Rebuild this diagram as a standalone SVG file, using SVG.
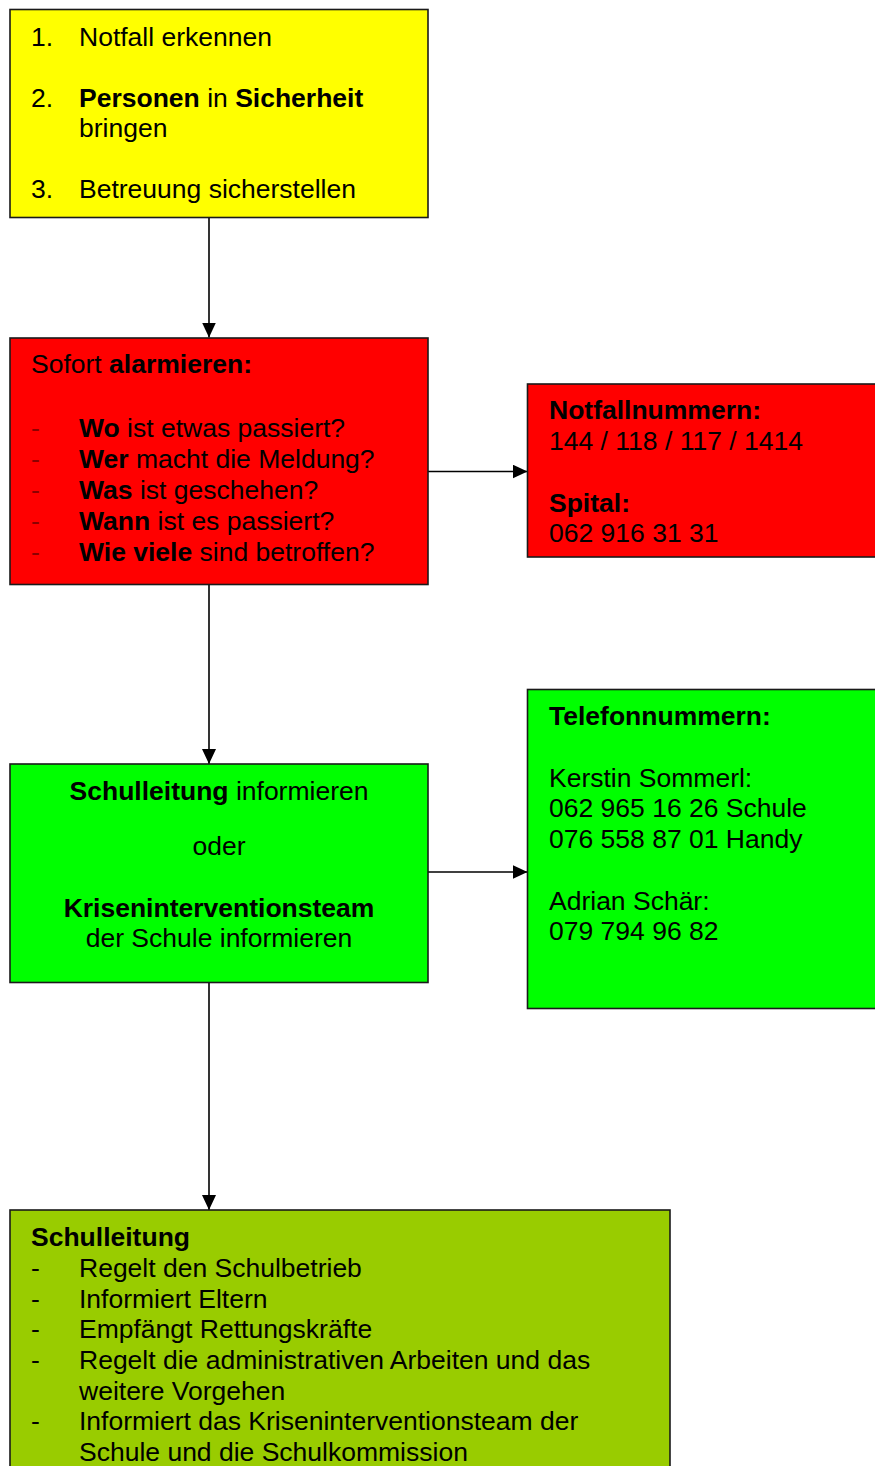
<svg xmlns="http://www.w3.org/2000/svg" width="875" height="1466" viewBox="0 0 875 1466">
<defs>
<style>
.box{stroke:#1a1a1a;stroke-width:1.6}
text{font-family:"Liberation Sans",Arial,sans-serif;font-size:26.5px;fill:#000}
.b{font-weight:bold}
.dr{fill:#8b0000}
.conn line{stroke:#000;stroke-width:1.6}
</style>
<marker id="ah" viewBox="0 0 15 14" refX="15" refY="7" markerWidth="15" markerHeight="14" markerUnits="userSpaceOnUse" orient="auto">
<path d="M0,0 L15,7 L0,14 Z" fill="#000"/>
</marker>
</defs>
<rect width="875" height="1466" fill="#fff"/>
<g class="conn">
<line x1="209" y1="218" x2="209" y2="337.5" marker-end="url(#ah)"/>
<line x1="428" y1="471.5" x2="527.5" y2="471.5" marker-end="url(#ah)"/>
<line x1="209" y1="585" x2="209" y2="764" marker-end="url(#ah)"/>
<line x1="428" y1="872" x2="527.5" y2="872" marker-end="url(#ah)"/>
<line x1="209" y1="983" x2="209" y2="1210" marker-end="url(#ah)"/>
</g>
<g id="n1">
<rect class="box" x="10" y="9.5" width="418" height="208" fill="#ffff00"/>
<text x="31" y="46">1.</text><text x="79" y="46">Notfall erkennen</text>
<text x="31" y="107">2.</text><text x="79" y="107"><tspan class="b">Personen</tspan> in <tspan class="b">Sicherheit</tspan></text>
<text x="79" y="137">bringen</text>
<text x="31" y="198">3.</text><text x="79" y="198">Betreuung sicherstellen</text>
</g>
<g id="n2">
<rect class="box" x="10" y="338" width="418" height="246.5" fill="#ff0000"/>
<text x="31" y="373">Sofort <tspan class="b">alarmieren:</tspan></text>
<text class="dr" x="31" y="437">-</text><text x="79" y="437"><tspan class="b">Wo</tspan> ist etwas passiert?</text>
<text class="dr" x="31" y="468">-</text><text x="79" y="468"><tspan class="b">Wer</tspan> macht die Meldung?</text>
<text class="dr" x="31" y="499">-</text><text x="79" y="499"><tspan class="b">Was</tspan> ist geschehen?</text>
<text class="dr" x="31" y="530">-</text><text x="79" y="530"><tspan class="b">Wann</tspan> ist es passiert?</text>
<text class="dr" x="31" y="561">-</text><text x="79" y="561"><tspan class="b">Wie viele</tspan> sind betroffen?</text>
</g>
<g id="n3">
<rect class="box" x="527.5" y="384" width="360" height="173" fill="#ff0000"/>
<text class="b" x="549" y="419">Notfallnummern:</text>
<text x="549" y="450">144 / 118 / 117 / 1414</text>
<text class="b" x="549" y="512">Spital:</text>
<text x="549" y="542">062 916 31 31</text>
</g>
<g id="n4">
<rect class="box" x="10" y="764" width="418" height="218.5" fill="#00ff00"/>
<text x="219" y="800" text-anchor="middle"><tspan class="b">Schulleitung</tspan> informieren</text>
<text x="219" y="855" text-anchor="middle">oder</text>
<text class="b" x="219" y="917" text-anchor="middle">Kriseninterventionsteam</text>
<text x="219" y="947" text-anchor="middle">der Schule informieren</text>
</g>
<g id="n5">
<rect class="box" x="527.5" y="689.5" width="360" height="319" fill="#00ff00"/>
<text class="b" x="549" y="725">Telefonnummern:</text>
<text x="549" y="787">Kerstin Sommerl:</text>
<text x="549" y="817">062 965 16 26 Schule</text>
<text x="549" y="848">076 558 87 01 Handy</text>
<text x="549" y="910">Adrian Schär:</text>
<text x="549" y="940">079 794 96 82</text>
</g>
<g id="n6">
<rect class="box" x="10" y="1210" width="660" height="280" fill="#99cc00"/>
<text class="b" x="31" y="1246">Schulleitung</text>
<text x="31" y="1277">-</text><text x="79" y="1277">Regelt den Schulbetrieb</text>
<text x="31" y="1308">-</text><text x="79" y="1308">Informiert Eltern</text>
<text x="31" y="1338">-</text><text x="79" y="1338">Empfängt Rettungskräfte</text>
<text x="31" y="1369">-</text><text x="79" y="1369">Regelt die administrativen Arbeiten und das</text>
<text x="79" y="1400">weitere Vorgehen</text>
<text x="31" y="1430">-</text><text x="79" y="1430">Informiert das Kriseninterventionsteam der</text>
<text x="79" y="1461">Schule und die Schulkommission</text>
</g>
</svg>
